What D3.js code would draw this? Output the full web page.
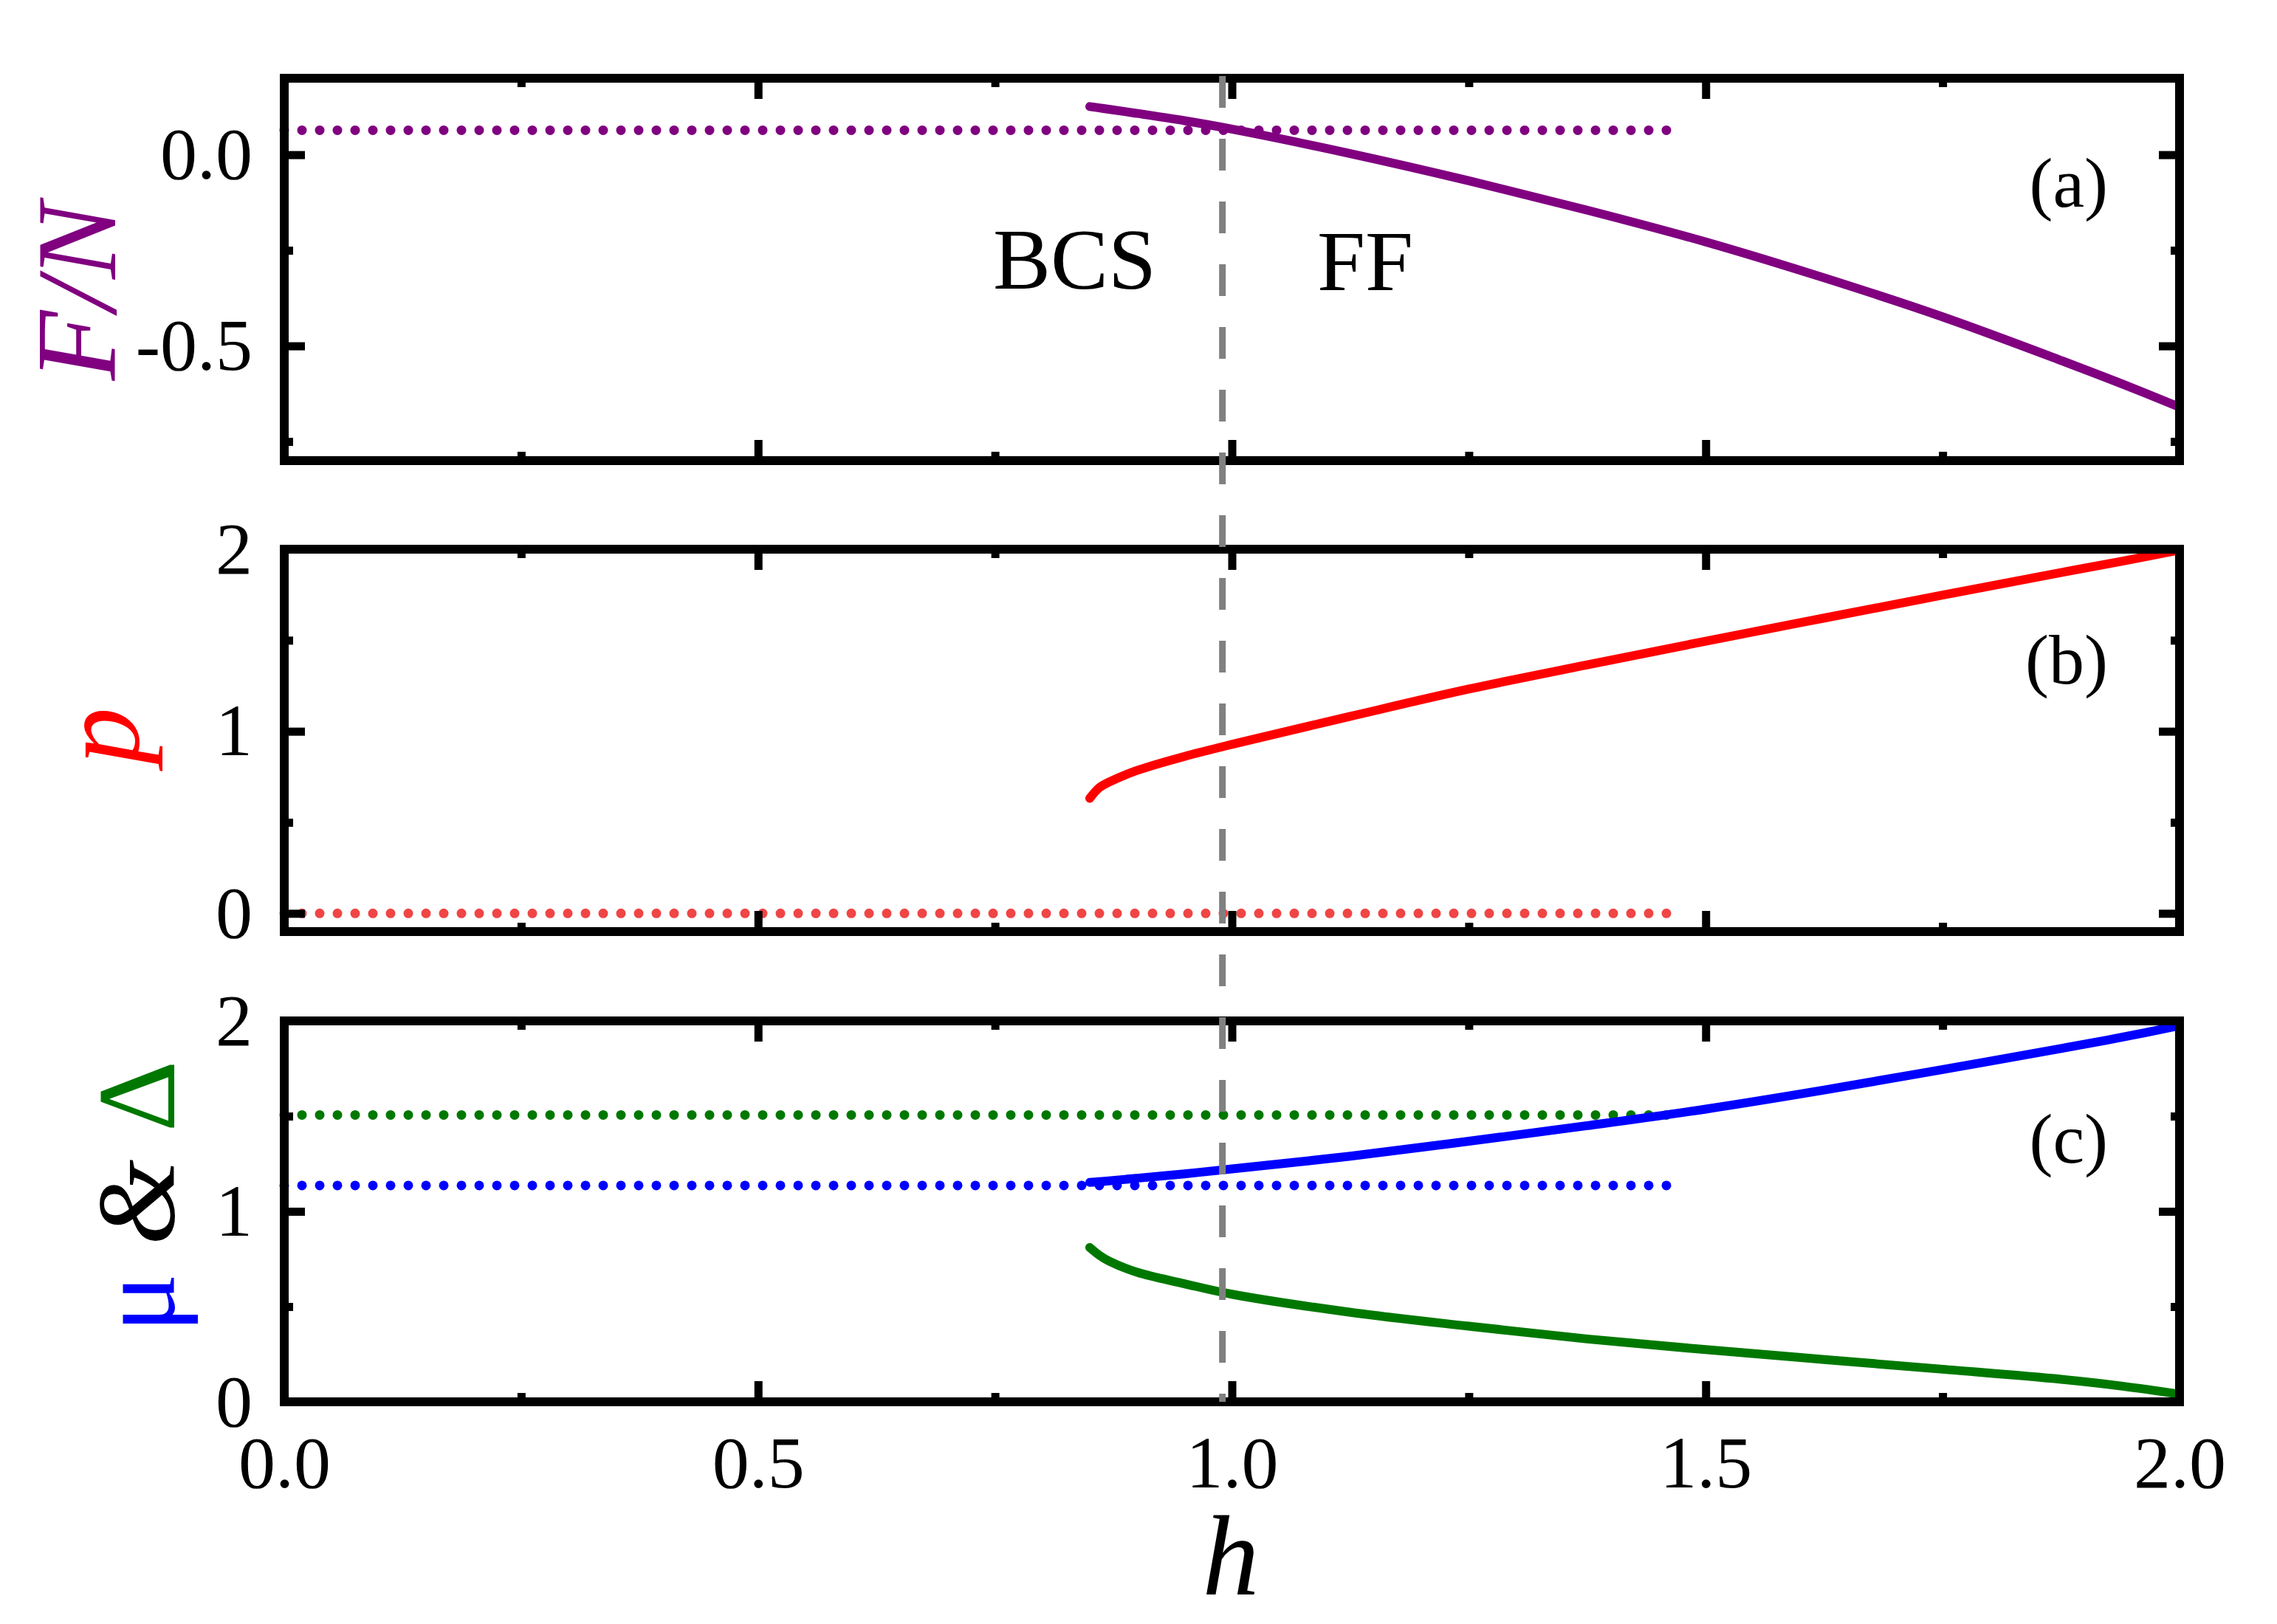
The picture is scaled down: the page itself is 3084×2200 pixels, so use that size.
<!DOCTYPE html>
<html lang="en">
<head>
    <meta charset="utf-8">
    <title>BCS / FF</title>
    <script src="https://d3js.org/d3.v7.min.js" charset="utf-8"></script>
    <style>
        body { margin: 0; background: #fff; }
        text { font-family: "Liberation Serif", "Times New Roman", serif; }
    </style>
</head>
<body>
<script>

// FF branch (solid curves)
var hFF    = [0.85, 0.86, 0.87, 0.90, 0.95, 1.0, 1.125, 1.25, 1.375, 1.5, 1.625, 1.75, 1.875, 1.94, 2.0]
var freeFF = [0.126, 0.1225, 0.119, 0.108, 0.089, 0.067, 0.003, -0.068, -0.145, -0.228, -0.322, -0.424, -0.538, -0.600, -0.660]
var pFF    = [0.632, 0.69, 0.72, 0.785, 0.862, 0.928, 1.082, 1.232, 1.365, 1.495, 1.622, 1.748, 1.872, 1.935, 1.995]
var muFF   = [1.152, 1.156, 1.16, 1.174, 1.197, 1.223, 1.29, 1.368, 1.45, 1.537, 1.637, 1.745, 1.855, 1.915, 1.975]
var gapFF  = [0.81, 0.77, 0.74, 0.68, 0.62, 0.565, 0.47, 0.397, 0.33, 0.274, 0.222, 0.171, 0.118, 0.082, 0.04]

// BCS branch (dotted lines)
var hBCS    = [0, 1.46]
var freeBCS = [0.064, 0.064]
var pBCS    = [0, 0]
var muBCS   = [1.136, 1.136]
var gapBCS  = [1.506, 1.506]

// transition field
var hc = 0.99

// ticks
var hTicks = [0, 0.5, 1.0, 1.5, 2.0]
var hMinor = [0.25, 0.75, 1.25, 1.75]
var freeTicks = [0, -0.5]
var freeMinor = [-0.25, -0.75]
var pTicks = [0, 1, 2]
var pMinor = [0.5, 1.5]
var muTicks = [0, 1, 2]
var muMinor = [0.5, 1.5]

var w = 3084, h = 2200
var x0 = 385, x1 = 2952
var font = '"Liberation Serif", "Times New Roman", serif'

var svg = d3.select("body").append("svg").attr("width", w).attr("height", h)

var x = d3.scaleLinear().domain([0, 2]).range([x0, x1])

var panels = [
    {top: 106, bottom: 624, domain: [-0.8, 0.2], major: freeTicks, minor: freeMinor, fmt: function(d){return d.toFixed(1)},
     label: "(a)", labelY: 280,
     solid: [{v: freeFF, c: "#800080"}], dots: [{v: freeBCS, c: "#800080"}]},
    {top: 744, bottom: 1262, domain: [-0.1, 2], major: pTicks, minor: pMinor, fmt: function(d){return d},
     label: "(b)", labelY: 926,
     solid: [{v: pFF, c: "#ff0000"}], dots: [{v: pBCS, c: "#f04545"}]},
    {top: 1383, bottom: 1899, domain: [0, 2], major: muTicks, minor: muMinor, fmt: function(d){return d},
     label: "(c)", labelY: 1575,
     solid: [{v: muFF, c: "#0000ff"}, {v: gapFF, c: "#007800"}],
     dots: [{v: gapBCS, c: "#007800"}, {v: muBCS, c: "#0000ff"}]}
]

panels.forEach(function(p, i) {

    var y = d3.scaleLinear().domain(p.domain).range([p.bottom, p.top])
    var g = svg.append("g")

    var line = function(hs) {
        return d3.line().curve(d3.curveCatmullRom.alpha(0.5))
            .x(function(d, k){return x(hs[k])})
            .y(function(d){return y(d)})
    }

    p.dots.forEach(function(s) {
        g.append("path").datum(s.v).attr("d", line(hBCS))
            .attr("fill", "none").attr("stroke", s.c).attr("stroke-width", 13)
            .attr("stroke-linecap", "round").attr("stroke-dasharray", "0 24")
    })

    p.solid.forEach(function(s) {
        g.append("path").datum(s.v).attr("d", line(hFF))
            .attr("fill", "none").attr("stroke", s.c).attr("stroke-width", 12)
            .attr("stroke-linecap", "round").attr("stroke-linejoin", "round")
    })

    // inward ticks on all four sides
    function ticks(axis, tx, ty, vals, len, labels) {
        var a = g.append("g").attr("transform", "translate(" + tx + "," + ty + ")")
            .call(axis.tickValues(vals).tickSize(-len).tickPadding(labels ? labels.pad : 0)
                .tickFormat(labels ? labels.f : function(){return ""}))
        a.select(".domain").remove()
        a.selectAll("line").attr("stroke", "#000").attr("stroke-width", 11)
        a.attr("font-family", font).attr("font-size", 100)
        a.selectAll("text").attr("fill", "#000")
        return a
    }

    ticks(d3.axisLeft(y), x0, 0, p.major, 28, {pad: 43, f: p.fmt})
    ticks(d3.axisLeft(y), x0, 0, p.minor, 12)
    ticks(d3.axisRight(y), x1, 0, p.major, 28)
    ticks(d3.axisRight(y), x1, 0, p.minor, 12)
    ticks(d3.axisTop(x), 0, p.top, hTicks, 28)
    ticks(d3.axisTop(x), 0, p.top, hMinor, 12)
    if (i == 2) {
        ticks(d3.axisBottom(x), 0, p.bottom, hTicks, 28, {pad: 45, f: function(d){return d.toFixed(1)}})
    } else {
        ticks(d3.axisBottom(x), 0, p.bottom, hTicks, 28)
    }
    ticks(d3.axisBottom(x), 0, p.bottom, hMinor, 12)

    g.append("rect").attr("x", x0).attr("y", p.top)
        .attr("width", x1 - x0).attr("height", p.bottom - p.top)
        .attr("fill", "none").attr("stroke", "#000").attr("stroke-width", 12)

    g.append("text").attr("x", 2855).attr("y", p.labelY).attr("text-anchor", "end")
        .attr("font-size", 96).text(p.label)
})

// transition line
svg.append("line").attr("x1", x(hc)).attr("x2", x(hc))
    .attr("y1", panels[0].top - 3).attr("y2", panels[2].bottom)
    .attr("stroke", "#808080").attr("stroke-width", 9).attr("stroke-dasharray", "43 42")

// phase names
svg.append("text").attr("x", 1345).attr("y", 391).attr("font-size", 117).text("BCS")
svg.append("text").attr("x", 1784).attr("y", 393).attr("font-size", 117).text("FF")

// axis titles
svg.append("text").attr("transform", "translate(156,395) rotate(-90)").attr("text-anchor", "middle")
    .attr("font-size", 155).attr("font-style", "italic").attr("fill", "#800080").text("F/N")

svg.append("text").attr("transform", "translate(187,997) rotate(-90)").attr("text-anchor", "middle")
    .attr("font-size", 155).attr("font-style", "italic").attr("fill", "#ff0000").text("p")

var t = svg.append("text").attr("transform", "translate(236,1621) rotate(-90)").attr("text-anchor", "middle")
    .attr("font-size", 150)
t.append("tspan").attr("fill", "#0000ff").text("μ")
t.append("tspan").attr("fill", "#000").attr("font-style", "italic").text(" & ")
t.append("tspan").attr("fill", "#007800").text("Δ")

svg.append("text").attr("x", 1667).attr("y", 2160).attr("text-anchor", "middle")
    .attr("font-size", 154).attr("font-style", "italic").text("h")

</script>
</body>
</html>
